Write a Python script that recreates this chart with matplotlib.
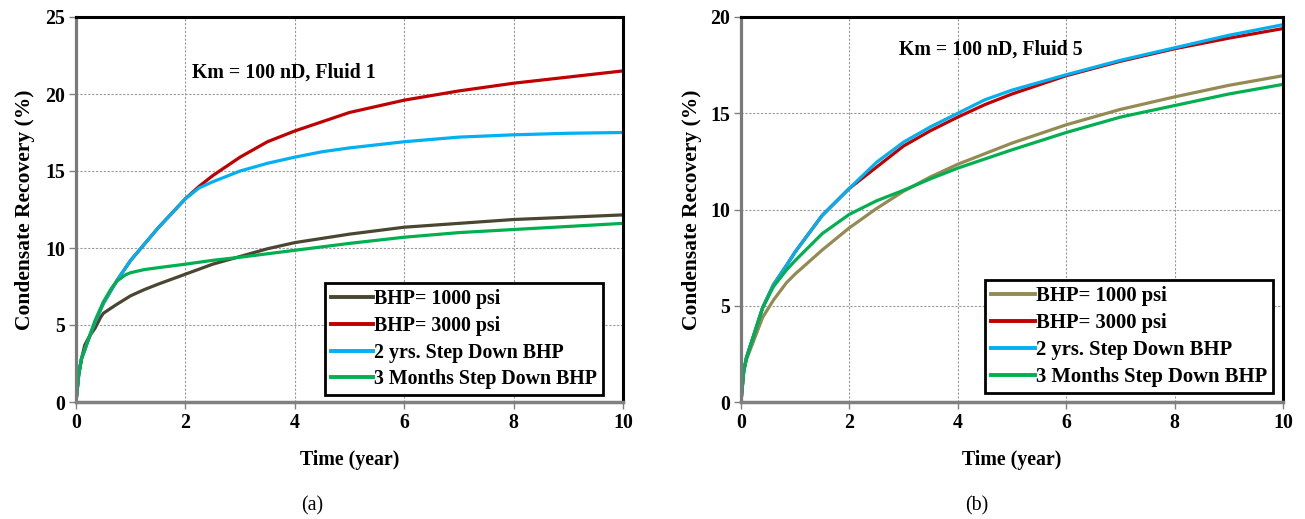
import matplotlib
matplotlib.use("Agg")
import matplotlib.pyplot as plt
from matplotlib.lines import Line2D

plt.rcParams['font.family'] = ['Liberation Serif', 'DejaVu Serif']
plt.rcParams['font.weight'] = 'bold'

labels = ["BHP= 1000 psi", "BHP= 3000 psi", "2 yrs. Step Down BHP", "3 Months Step Down BHP"]

# Panel (a): Km = 100 nD, Fluid 1
a_t1000 = [0, 0.05, 0.1, 0.16, 0.25, 0.35, 0.45, 0.5, 0.6, 0.75, 1.0, 1.25, 1.5, 2.0, 2.5, 3.0, 3.5, 4.0, 5.0, 6.0, 7.0, 8.0, 9.0, 10.0]
a_v1000 = [0, 1.8, 2.8, 3.7, 4.3, 4.8, 5.5, 5.76, 6.0, 6.35, 6.9, 7.3, 7.65, 8.3, 8.95, 9.45, 9.95, 10.35, 10.9, 11.35, 11.6, 11.85, 12.0, 12.15]
a_t3000 = [0, 0.05, 0.1, 0.2, 0.35, 0.5, 0.75, 1.0, 1.5, 2.0, 2.25, 2.5, 3.0, 3.5, 4.0, 5.0, 6.0, 7.0, 8.0, 9.0, 10.0]
a_v3000 = [0, 1.8, 2.8, 3.8, 5.2, 6.4, 7.9, 9.2, 11.3, 13.2, 14.0, 14.7, 15.9, 16.9, 17.6, 18.8, 19.6, 20.2, 20.7, 21.1, 21.5]
a_t2yr = [0, 0.05, 0.1, 0.2, 0.35, 0.5, 0.75, 1.0, 1.5, 2.0, 2.25, 2.5, 3.0, 3.5, 4.0, 4.5, 5.0, 6.0, 7.0, 8.0, 9.0, 10.0]
a_v2yr = [0, 1.8, 2.8, 3.8, 5.2, 6.4, 7.9, 9.2, 11.3, 13.2, 13.9, 14.3, 15.0, 15.5, 15.9, 16.25, 16.5, 16.9, 17.2, 17.35, 17.45, 17.5]
a_t3mo = [0, 0.05, 0.1, 0.2, 0.35, 0.5, 0.65, 0.75, 0.9, 1.0, 1.25, 1.5, 2.0, 2.5, 3.0, 4.0, 5.0, 6.0, 7.0, 8.0, 9.0, 10.0]
a_v3mo = [0, 1.8, 2.8, 3.8, 5.3, 6.5, 7.4, 7.85, 8.25, 8.4, 8.6, 8.72, 8.95, 9.2, 9.4, 9.85, 10.3, 10.7, 11.0, 11.2, 11.4, 11.6]

# Panel (b): Km = 100 nD, Fluid 5
b_t1000 = [0, 0.05, 0.1, 0.25, 0.4, 0.6, 0.84, 1.0, 1.5, 2.0, 2.5, 3.0, 3.5, 4.0, 5.0, 6.0, 7.0, 8.0, 9.0, 10.0]
b_v1000 = [0, 1.6, 2.2, 3.3, 4.4, 5.3, 6.2, 6.65, 7.9, 9.05, 10.05, 10.95, 11.7, 12.35, 13.45, 14.4, 15.2, 15.85, 16.45, 16.95]
b_t3000 = [0, 0.05, 0.1, 0.25, 0.4, 0.6, 0.84, 1.0, 1.5, 2.0, 2.5, 3.0, 3.5, 4.0, 4.5, 5.0, 6.0, 7.0, 8.0, 9.0, 10.0]
b_v3000 = [0, 1.6, 2.3, 3.6, 4.9, 6.1, 7.1, 7.8, 9.7, 11.1, 12.2, 13.3, 14.1, 14.8, 15.45, 16.0, 16.95, 17.7, 18.35, 18.9, 19.4]
b_t2yr = [0, 0.05, 0.1, 0.25, 0.4, 0.6, 0.84, 1.0, 1.5, 2.0, 2.5, 3.0, 3.5, 4.0, 4.5, 5.0, 6.0, 7.0, 8.0, 9.0, 10.0]
b_v2yr = [0, 1.6, 2.3, 3.6, 4.9, 6.1, 7.1, 7.8, 9.7, 11.1, 12.45, 13.5, 14.3, 15.0, 15.7, 16.2, 17.0, 17.75, 18.4, 19.05, 19.6]
b_t3mo = [0, 0.05, 0.1, 0.25, 0.4, 0.6, 0.84, 1.0, 1.5, 2.0, 2.5, 3.0, 3.5, 4.0, 5.0, 6.0, 7.0, 8.0, 9.0, 10.0]
b_v3mo = [0, 1.6, 2.3, 3.6, 4.9, 6.0, 6.86, 7.35, 8.75, 9.75, 10.45, 11.0, 11.6, 12.15, 13.1, 14.0, 14.8, 15.4, 16.0, 16.5]

a_colors = ["#4B4631", "#C00000", "#00B0F0", "#00B050"]
b_colors = ["#948A54", "#C00000", "#00B0F0", "#00B050"]

FS = 14.3

fig = plt.figure(figsize=(13.05, 5.19), dpi=100)
ax1 = fig.add_axes([76/1305, 1-402/519, (623-76)/1305, (402-17)/519])
ax2 = fig.add_axes([741/1305, 1-402/519, (1283-741)/1305, (402-17)/519])

def style(ax, ymax, ystep, ylpad):
    ax.set_xlim(0, 10)
    ax.set_ylim(0, ymax)
    ax.set_xticks(range(0, 11, 2))
    ax.set_yticks(range(0, ymax + 1, ystep))
    ax.grid(True, color='#9a9a9a', linestyle=(0, (2, 1.5)), linewidth=0.8)
    ax.set_axisbelow(True)
    for s in ['top', 'right']:
        ax.spines[s].set_color('black')
        ax.spines[s].set_linewidth(2.2)
    ax.spines['left'].set_color('#7a7a7a')
    ax.spines['left'].set_linewidth(2.3)
    ax.spines['bottom'].set_color('#808080')
    ax.spines['bottom'].set_linewidth(2.5)
    ax.tick_params(direction='out', length=5, width=1, color='#808080', labelsize=FS, pad=3)
    for lbl in ax.get_xticklabels() + ax.get_yticklabels():
        lbl.set_fontweight('bold')
    ax.set_xlabel("Time (year)", fontsize=FS, fontweight='bold', labelpad=12)
    ax.set_ylabel("Condensate Recovery (%)", fontsize=15.5, fontweight='bold', labelpad=ylpad)

def draw(ax, series, colors):
    for (t, v), c, lab in zip(series, colors, labels):
        ax.plot(t, v, color=c, linewidth=2.3, label=lab, solid_capstyle='butt')

a_series = [(a_t1000, a_v1000), (a_t3000, a_v3000), (a_t2yr, a_v2yr), (a_t3mo, a_v3mo)]
b_series = [(b_t1000, b_v1000), (b_t3000, b_v3000), (b_t2yr, b_v2yr), (b_t3mo, b_v3mo)]

draw(ax1, a_series, a_colors)
draw(ax2, b_series, b_colors)
style(ax1, 25, 5, 7)
style(ax2, 20, 5, 6)

for ax, colors, anchor, fs in [(ax1, a_colors, (0.963, 0.018), FS), (ax2, b_colors, (0.982, 0.023), 14.9)]:
    hs = [Line2D([], [], color=c, linewidth=2.8) for c in colors]
    leg = ax.legend(hs, labels, loc='lower right', bbox_to_anchor=anchor,
                    prop={'family': 'Liberation Serif', 'weight': 'bold', 'size': fs},
                    frameon=True, fancybox=False, handlelength=2.1, handletextpad=0.05,
                    borderpad=0.3, labelspacing=0.33, borderaxespad=0.0)
    leg.get_frame().set_edgecolor('black')
    leg.get_frame().set_linewidth(2.0)
    leg.get_frame().set_alpha(1)

ax1.text(3.8, 21.4, "Km = 100 nD, Fluid 1", fontsize=FS, fontweight='bold', ha='center', va='center')
ax2.text(4.6, 18.3, "Km = 100 nD, Fluid 5", fontsize=FS, fontweight='bold', ha='center', va='center')

fig.text(312/1305, 1-506/519, "(a)", fontsize=FS, fontweight='normal', ha='center', va='center')
fig.text(977/1305, 1-506/519, "(b)", fontsize=FS, fontweight='normal', ha='center', va='center')

fig.savefig("out.png", dpi=100)
